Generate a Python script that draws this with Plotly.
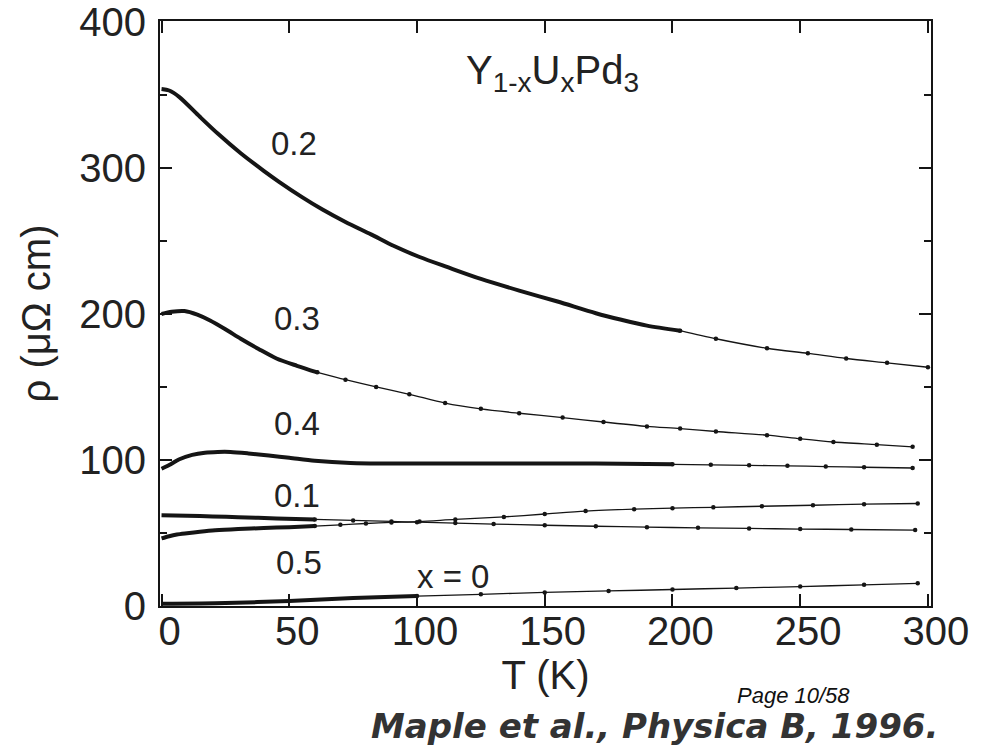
import plotly.graph_objects as go

# ---- data ----
T_02 = [0, 3, 7, 15, 22, 31, 40, 46, 55, 63, 72, 82, 91, 101, 112, 125, 140, 155, 170, 180, 190, 203, 217, 237, 253, 268, 284, 300]
R_02 = [354, 353, 348.5, 335, 323.5, 310, 298, 290.5, 280, 271.5, 263, 254.5, 246.5, 239, 232, 224, 216, 208.5, 200.5, 196, 192, 188.5, 183, 176.5, 173, 169.5, 166.5, 163.5]

T_03 = [0, 4, 9, 14, 19, 25, 31, 38, 45, 53, 61, 72, 84, 97, 111, 125, 140, 157, 173, 190, 203, 217, 237, 250, 263, 280, 294]
R_03 = [200, 201.5, 202, 199.5, 195.5, 189.5, 183, 176, 169.5, 164.5, 160, 155, 150, 145, 139, 135, 132, 129, 126, 123, 121.5, 119.5, 117, 114.5, 112.3, 110.5, 109]

T_04 = [0, 3, 7, 12, 17, 22, 27, 34, 42, 50, 60, 74, 90, 110, 140, 170, 200, 215, 230, 245, 260, 275, 294]
R_04 = [94, 96.5, 100.5, 103.5, 105, 105.5, 105.5, 104.5, 103, 101.5, 99.5, 98, 97.6, 97.6, 97.6, 97.5, 97, 96.7, 96.3, 96, 95.5, 95, 94.5]

T_01 = [0, 10, 20, 30, 45, 60, 75, 90, 100, 115, 130, 150, 170, 190, 210, 230, 250, 270, 295]
R_01 = [62.2, 61.8, 61.3, 60.8, 60, 59.3, 58.6, 57.9, 57.4, 56.8, 56.1, 55.3, 54.6, 54, 53.5, 53.1, 52.7, 52.4, 52]

T_05 = [0, 3, 6, 10, 15, 21, 30, 40, 50, 60, 70, 80, 90, 101, 115, 134, 150, 166, 185, 200, 216, 235, 255, 275, 296]
R_05 = [46.3, 47.8, 48.9, 49.8, 50.8, 51.8, 52.7, 53.4, 54, 54.7, 55.6, 56.5, 57.2, 57.8, 59.3, 61, 63, 65, 66.3, 67, 67.6, 68.3, 69, 69.7, 70.2]

T_00 = [0, 25, 50, 75, 100, 125, 150, 175, 200, 225, 250, 275, 296]
R_00 = [1.5, 2, 3.5, 5.5, 6.8, 8, 9.3, 10.3, 11.3, 12.3, 13.3, 14.5, 15.5]

x_ticks = [0, 50, 100, 150, 200, 250, 300]
y_ticks = [0, 100, 200, 300, 400]

series = [
    ("0.2", T_02, R_02),
    ("0.3", T_03, R_03),
    ("0.4", T_04, R_04),
    ("0.1", T_01, R_01),
    ("0.5", T_05, R_05),
    ("0", T_00, R_00),
]
# temperature up to which the data are dense (drawn as a heavy line)
dense_until = {"0.2": 210, "0.3": 61, "0.4": 200, "0.1": 60, "0.5": 60, "0": 100}

INK = "#151515"
FONT = "Liberation Sans, Arial, Helvetica, sans-serif"

fig = go.Figure()
for name, T, R in series:
    cut = dense_until[name]
    Td = [t for t in T if t <= cut]
    Rd = [r for t, r in zip(T, R) if t <= cut]
    Ts = [t for t in T if t >= cut]
    Rs = [r for t, r in zip(T, R) if t >= cut]
    if Td and Ts and Td[-1] != Ts[0]:
        Ts = [Td[-1]] + Ts
        Rs = [Rd[-1]] + Rs
    fig.add_trace(go.Scatter(x=Td, y=Rd, mode="lines", name=f"x = {name}",
                             line=dict(color=INK, width=4, shape="spline", smoothing=0.8),
                             showlegend=False, hoverinfo="x+y+name"))
    fig.add_trace(go.Scatter(x=Ts, y=Rs, mode="lines+markers", name=f"x = {name}",
                             line=dict(color=INK, width=1.3, shape="spline", smoothing=0.8),
                             marker=dict(color=INK, size=4.5),
                             showlegend=False, hoverinfo="x+y+name"))

label_font = dict(family=FONT, size=33, color="#222")
labels = [
    ("0.2", 52, 317),
    ("0.3", 53, 197),
    ("0.4", 53, 125),
    ("0.1", 53, 76),
    ("0.5", 54, 30),
    ("x = 0", 114, 20.5),
]
for txt, tx, ty in labels:
    fig.add_annotation(x=tx, y=ty, xref="x", yref="y", text=txt, showarrow=False,
                       font=label_font)

fig.add_annotation(x=153, y=365, xref="x", yref="y", xanchor="center",
                   text="Y<sub>1-x</sub>U<sub>x</sub>Pd<sub>3</sub>", showarrow=False,
                   font=dict(family=FONT, size=40, color="#222"))

axis_common = dict(showline=True, linecolor=INK, linewidth=2, mirror="ticks",
                   ticks="inside", tickcolor=INK, tickwidth=2, ticklen=12,
                   showgrid=False, zeroline=False, ticklabeloverflow="allow",
                   automargin=False,
                   tickfont=dict(family=FONT, size=40, color="#222"))

fig.update_layout(
    width=986, height=749,
    margin=dict(l=160, r=55, t=21, b=143),
    paper_bgcolor="white", plot_bgcolor="white",
    xaxis=dict(range=[-0.6, 301.2], tickvals=x_ticks, ticktext=[str(v) for v in x_ticks],
               ticklabelshift=8, ticklabelstandoff=-11,
               title=dict(text="T (K)", font=dict(family=FONT, size=40, color="#222"), standoff=0),
               **axis_common),
    yaxis=dict(range=[0, 400.6], tickvals=y_ticks, ticktext=[str(v) for v in y_ticks],
               ticklabelstandoff=4,
               minor=dict(dtick=50, ticks="inside", ticklen=7, tickcolor=INK, tickwidth=1.5),
               title=dict(text="ρ (μΩ cm)", font=dict(family=FONT, size=40, color="#222"), standoff=16),
               **axis_common),
)

# footer texts positioned in paper coordinates
fig.add_annotation(x=(793 - 160) / 771, y=-(695 - 606) / 585, xref="paper", yref="paper",
                   xanchor="center", yanchor="middle",
                   text="<i>Page 10/58</i>", showarrow=False,
                   font=dict(family=FONT, size=22, color="#111"))
fig.add_annotation(x=(654 - 160) / 771, y=-(748 - 606) / 585, xref="paper", yref="paper",
                   xanchor="center", yanchor="bottom",
                   text="<b><i>Maple et al., Physica B, 1996.</i></b>", showarrow=False,
                   font=dict(family="DejaVu Sans, Verdana, sans-serif", size=34, color="#333"))

fig.write_html("out.html")
